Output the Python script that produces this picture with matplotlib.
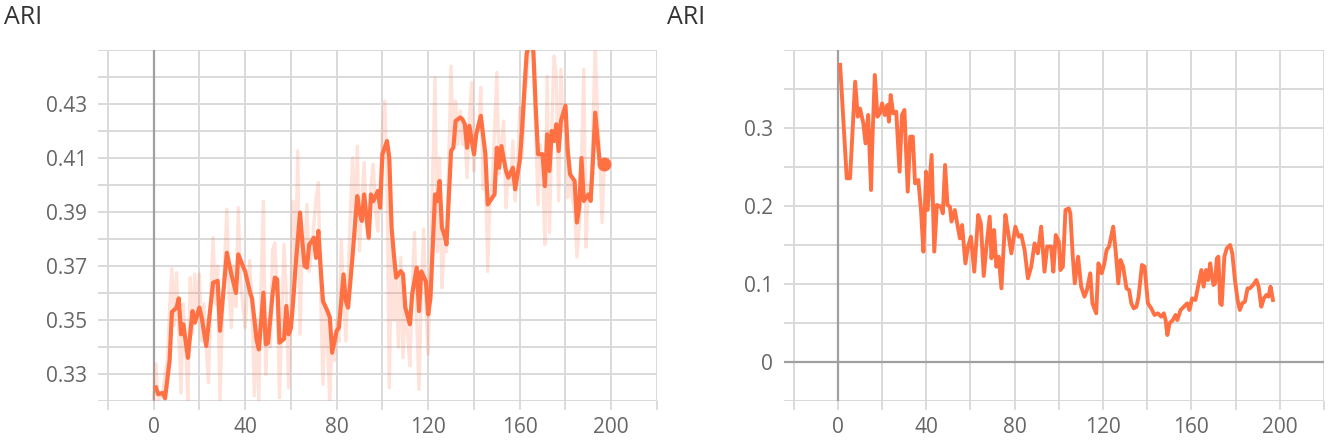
import numpy as np
import matplotlib
matplotlib.use("Agg")
import matplotlib.pyplot as plt

plt.rcParams["font.family"] = ["Open Sans", "DejaVu Sans"]

# ── left panel: smoothed ARI trace ──────────────────────────────────────────
left_steps = [
    1, 2, 4, 5, 7, 8, 10, 11, 12, 13, 15, 17, 18, 20, 21, 23, 26, 28, 29, 32,
    34, 36, 37, 40, 42, 43, 45, 46, 48, 49, 50, 52, 53, 54, 55, 57, 58, 59, 60, 61,
    62, 64, 65, 66, 67, 68, 69, 70, 71, 72, 73, 74, 76, 77, 78, 80, 81, 83, 84, 85,
    87, 88, 89, 90, 91, 92, 94, 95, 96, 98, 99, 100, 102, 103, 104, 105, 106, 108, 109, 110,
    112, 113, 115, 116, 117, 119, 120, 121, 123, 124, 125, 126, 127, 128, 130, 131, 132, 134, 135, 136,
    137, 138, 140, 141, 143, 145, 146, 148, 149, 150, 151, 152, 154, 155, 157, 158, 160, 161, 162, 163,
    165, 166, 167, 168, 170, 171, 172, 173, 174, 175, 176, 177, 178, 180, 181, 182, 184, 185, 186, 187,
    188, 190, 191, 192, 193, 195, 197,
]
left_smooth = [
    0.3250, 0.3225, 0.3230, 0.3210, 0.3350, 0.3530, 0.3545, 0.3580, 0.3447, 0.3484,
    0.3360, 0.3533, 0.3490, 0.3546, 0.3510, 0.3404, 0.3638, 0.3645, 0.3460, 0.3749,
    0.3669, 0.3600, 0.3743, 0.3680, 0.3607, 0.3580, 0.3428, 0.3391, 0.3601, 0.3410,
    0.3415, 0.3595, 0.3657, 0.3650, 0.3416, 0.3430, 0.3552, 0.3447, 0.3470, 0.3570,
    0.3694, 0.3898, 0.3790, 0.3700, 0.3694, 0.3780, 0.3790, 0.3805, 0.3730, 0.3830,
    0.3694, 0.3570, 0.3533, 0.3510, 0.3379, 0.3460, 0.3472, 0.3669, 0.3570, 0.3546,
    0.3743, 0.3854, 0.3959, 0.3900, 0.3867, 0.3965, 0.3805, 0.3965, 0.3940, 0.3978,
    0.3916, 0.4114, 0.4163, 0.4100, 0.3842, 0.3743, 0.3657, 0.3681, 0.3670, 0.3546,
    0.3484, 0.3595, 0.3694, 0.3533, 0.3680, 0.3643, 0.3521, 0.3583, 0.3965, 0.3940,
    0.4015, 0.3842, 0.3817, 0.3780, 0.4126, 0.4138, 0.4237, 0.4250, 0.4243, 0.4225,
    0.4138, 0.4219, 0.4114, 0.4188, 0.4256, 0.4114, 0.3928, 0.3953, 0.3965, 0.4138,
    0.4064, 0.4144, 0.4052, 0.4027, 0.4064, 0.3984, 0.4089, 0.4200, 0.4348, 0.4484,
    0.4560, 0.4490, 0.4286, 0.4114, 0.4114, 0.3996, 0.4188, 0.4052, 0.4200, 0.4163,
    0.4225, 0.4126, 0.4237, 0.4293, 0.4126, 0.4040, 0.4015, 0.3861, 0.3917, 0.4100,
    0.3941, 0.3965, 0.3941, 0.4089, 0.4268, 0.4077, 0.4077,
]

# raw (unsmoothed) values, one per step
left_raw = [
    0.3210, 0.3338, 0.3200, 0.3215, 0.3230, 0.3300, 0.3350, 0.3546, 0.3690, 0.3480,
    0.3675, 0.3450, 0.3230, 0.3560, 0.3400, 0.3200, 0.3657, 0.3450, 0.3670, 0.3500,
    0.3670, 0.3422, 0.3560, 0.3400, 0.3268, 0.3600, 0.3805, 0.3560, 0.3700, 0.3200,
    0.3500, 0.3700, 0.3910, 0.3600, 0.3472, 0.3700, 0.3550, 0.3916, 0.3650, 0.3550,
    0.3472, 0.3600, 0.3720, 0.3550, 0.3219, 0.3500, 0.3200, 0.3650, 0.3940, 0.3299,
    0.3500, 0.3400, 0.3760, 0.3786, 0.3600, 0.3212, 0.3500, 0.3780, 0.3600, 0.3249,
    0.3600, 0.3940, 0.3700, 0.4126, 0.3447, 0.3800, 0.3700, 0.3928, 0.3681, 0.3750,
    0.3850, 0.3950, 0.4009, 0.3600, 0.3262, 0.3550, 0.3400, 0.3200, 0.3450, 0.3350,
    0.3500, 0.3420, 0.3793, 0.3600, 0.3422, 0.3650, 0.3900, 0.4100, 0.3800, 0.4144,
    0.3756, 0.3950, 0.4083, 0.3850, 0.3799, 0.4000, 0.4077, 0.3900, 0.3829, 0.4000,
    0.4200, 0.4311, 0.4050, 0.3249, 0.3800, 0.3500, 0.3650, 0.3400, 0.3731, 0.3361,
    0.3550, 0.3450, 0.3330, 0.3600, 0.3824, 0.3500, 0.3243, 0.3600, 0.3837, 0.3550,
    0.3373, 0.3700, 0.4050, 0.4398, 0.3753, 0.4100, 0.3620, 0.3775, 0.3753, 0.4100,
    0.4440, 0.4150, 0.4311, 0.4150, 0.4274, 0.4150, 0.4200, 0.4027, 0.4250, 0.4380,
    0.4052, 0.4200, 0.4200, 0.4361, 0.3984, 0.4100, 0.3680, 0.3950, 0.4000, 0.4200,
    0.4417, 0.4040, 0.4150, 0.4237, 0.3916, 0.4050, 0.4000, 0.4163, 0.3941, 0.4050,
    0.4286, 0.4100, 0.4300, 0.4400, 0.4496, 0.4600, 0.4450, 0.4200, 0.3928, 0.4150,
    0.4050, 0.3780, 0.4403, 0.3824, 0.4200, 0.4478, 0.4403, 0.3941, 0.4428, 0.4200,
    0.4300, 0.3953, 0.4050, 0.3950, 0.3900, 0.3733, 0.3850, 0.4100, 0.4428, 0.3770,
    0.4000, 0.3950, 0.4200, 0.4520, 0.4250, 0.4100, 0.3861, 0.4080,
]
left_raw_steps = list(range(len(left_raw)))
left_ylabels = ["0.33", "0.35", "0.37", "0.39", "0.41", "0.43"]

# ── right panel: ARI trace ──────────────────────────────────────────────────
right_steps = [
    1, 4, 5.5, 7.8, 9, 10, 11.5, 12.5, 13.7, 15, 15.5, 16.7, 17.9, 19, 20, 21.2, 22.4, 23.1, 23.9, 25,
    26.4, 27.9, 29, 30.1, 31.6, 32.7, 33.9, 34.9, 36.4, 37.6, 38.7, 39.9, 40.6, 42.4, 43.6, 44.8, 46.6, 47.5, 48.5, 49.6,
    50.7, 51.4, 52.9, 54.1, 55.2, 56.2, 57.7, 58.9, 60.2, 61.7, 63.5, 64.7, 66, 67.2, 68.7, 69.5, 70.7, 71.7, 72.8, 74,
    75.8, 77, 78.5, 80.3, 81.8, 83, 84.5, 86, 87.5, 89, 90.5, 92, 93.5, 94.7, 96.5, 97.5, 98.6, 100, 100.7, 101.8,
    103, 104.5, 105.2, 106.3, 107.2, 108.7, 110.1, 111.6, 112.7, 114.2, 115.2, 116.9, 117.9, 119.4, 120.6, 121.6, 122.7, 124.6, 125.8, 126.9,
    127.9, 129.1, 130.6, 131.8, 132.8, 133.9, 135.1, 136.1, 137.6, 138.8, 140.3, 141.8, 143.3, 144.8, 146.3, 147.5, 148.3, 149.1, 150.1, 151.6,
    152.8, 153.6, 155.1, 156.6, 158.1, 159.1, 160.3, 161.8, 163.3, 164.5, 165.5, 166.6, 167.5, 168.5, 169.3, 170, 170.7, 171.5, 172.2, 173,
    173.7, 174.9, 176, 177.5, 178.5, 179.7, 180.9, 181.9, 183, 184.2, 185.4, 186.4, 187.9, 189.4, 190.4, 191.6, 192.8, 193.9, 194.9, 195.8,
    196.9,
]
right_vals = [
    0.381, 0.2355, 0.2355, 0.3594, 0.3145, 0.325, 0.306, 0.2803, 0.3167, 0.2205,
    0.276, 0.368, 0.3145, 0.3188, 0.3316, 0.3167, 0.3295, 0.3081, 0.3423, 0.3188,
    0.321, 0.244, 0.3167, 0.3231, 0.2184, 0.2889, 0.2889, 0.229, 0.2333, 0.1949,
    0.1415, 0.244, 0.1949, 0.2654, 0.1415, 0.2013, 0.1991, 0.1906, 0.2526, 0.2013,
    0.1991, 0.18, 0.1949, 0.1756, 0.1585, 0.1756, 0.1265, 0.1479, 0.1607, 0.1158,
    0.1885, 0.1778, 0.1103, 0.1479, 0.1863, 0.1329, 0.1692, 0.1222, 0.135, 0.0944,
    0.1885, 0.1671, 0.1393, 0.1735, 0.1607, 0.1628, 0.1436, 0.1073, 0.1222, 0.1521,
    0.1393, 0.1735, 0.1158, 0.1479, 0.1479, 0.1158, 0.1628, 0.1543, 0.1179, 0.1222,
    0.1949, 0.197, 0.1906, 0.135, 0.1009, 0.135, 0.0966, 0.0838, 0.0923, 0.1137,
    0.0752, 0.0624, 0.1265, 0.1137, 0.1265, 0.1436, 0.1479, 0.1735, 0.1393, 0.1009,
    0.1308, 0.1222, 0.0944, 0.0923, 0.0752, 0.0688, 0.0709, 0.0838, 0.1244, 0.1222,
    0.0752, 0.0688, 0.0603, 0.0624, 0.0581, 0.0624, 0.0538, 0.0346, 0.0496, 0.0538,
    0.0603, 0.0538, 0.0667, 0.0709, 0.0752, 0.0667, 0.0816, 0.0795, 0.1009, 0.1179,
    0.0966, 0.1179, 0.1051, 0.1265, 0.1094, 0.0987, 0.1009, 0.1329, 0.135, 0.0752,
    0.0731, 0.135, 0.1457, 0.15, 0.1393, 0.1051, 0.0795, 0.0667, 0.0752, 0.0774,
    0.0944, 0.0944, 0.0987, 0.1051, 0.0966, 0.0709, 0.0816, 0.0859, 0.0838, 0.0966,
    0.0795,
]
right_ylabels = {0.0: "0", 0.1: "0.1", 0.2: "0.2", 0.3: "0.3"}

LINE = "#ff7043"
GRID = "#d9d9d9"
ZERO = "#a0a0a0"
LABEL = "#666666"
x_ticks = list(range(-20, 221, 20))
x_labels = [str(v) if v >= 0 and v % 40 == 0 else "" for v in x_ticks]

fig = plt.figure(figsize=(13.29, 4.46), dpi=100)
ax_l = fig.add_axes([98 / 1329, 45 / 446, 559 / 1329, 351 / 446])
ax_r = fig.add_axes([784 / 1329, 45 / 446, 540 / 1329, 351 / 446])


def style_axes(ax, xlim, ylim, yticks, ylabels):
    for s in ax.spines.values():
        s.set_visible(False)
    ax.set_xlim(*xlim)
    ax.set_ylim(*ylim)
    ax.set_xticks(x_ticks)
    ax.set_xticklabels(x_labels)
    ax.set_yticks(yticks)
    ax.set_yticklabels(ylabels)
    ax.grid(True, color=GRID, linewidth=1.4, zorder=0)
    ax.set_axisbelow(True)
    ax.tick_params(axis="x", length=6.5, width=1.3, color=GRID, pad=5,
                   labelsize=15, labelcolor=LABEL)
    ax.tick_params(axis="y", length=0, pad=8, labelsize=15, labelcolor=LABEL)
    ax.axvline(0, color=ZERO, linewidth=1.6, zorder=1)


# ── left ─────────────────────────────────────────────────────────────────────
l_ticks = np.round(np.arange(0.32, 0.4501, 0.01), 2)
l_labels = [f"{v:.2f}" if f"{v:.2f}" in left_ylabels else "" for v in l_ticks]
style_axes(ax_l, (-24.3, 220), (0.32, 0.45), l_ticks, l_labels)
ax_l.plot(left_raw_steps, left_raw, color=LINE, alpha=0.2, linewidth=2.4, zorder=2)
ax_l.plot(left_steps, left_smooth, color=LINE, linewidth=3.0, zorder=3)
ax_l.plot(left_steps[-1], left_smooth[-1], "o", color=LINE, markersize=9, zorder=4)

# ── right ────────────────────────────────────────────────────────────────────
r_ticks = np.round(np.arange(-0.05, 0.4001, 0.05), 2)
style_axes(ax_r, (-24.4, 220), (-0.05, 0.40), r_ticks,
           [right_ylabels.get(round(v, 2), "") for v in r_ticks])
ax_r.axhline(0, color=ZERO, linewidth=1.6, zorder=1)
ax_r.plot(right_steps, right_vals, color=LINE, linewidth=2.8, zorder=3)

fig.text(4 / 1329, 1 - 18 / 446, "ARI", fontsize=18, color="#333333", va="center")
fig.text(667 / 1329, 1 - 18 / 446, "ARI", fontsize=18, color="#333333", va="center")

fig.savefig("out.png", dpi=100, facecolor="white")
